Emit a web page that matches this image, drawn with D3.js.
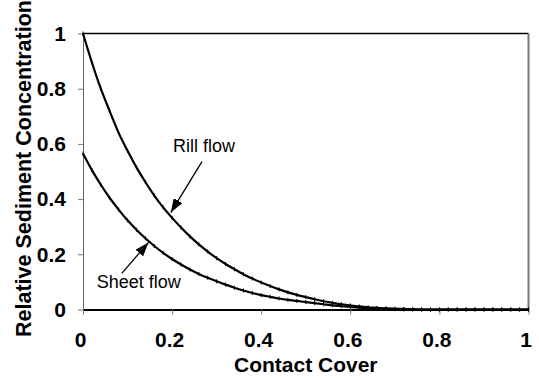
<!DOCTYPE html>
<html>
<head>
<meta charset="utf-8">
<script src="https://cdn.jsdelivr.net/npm/d3@7"></script>
<style>
  body { margin: 0; background: #fff; }
  svg { display: block; font-family: "Liberation Sans", Arial, sans-serif; }
</style>
</head>
<body>
<div id="wrapper"></div>
<script>
// data (x step 0.02)
const cover = d3.range(0, 51).map(i => +(i * 0.02).toFixed(2))
const rill = [1.000, 0.895, 0.800, 0.718, 0.640, 0.575, 0.515, 0.462, 0.413, 0.370,
  0.332, 0.297, 0.265, 0.236, 0.210, 0.186, 0.165, 0.146, 0.128, 0.112,
  0.098, 0.085, 0.073, 0.062, 0.053, 0.045, 0.037, 0.030, 0.024, 0.019,
  0.015, 0.011, 0.008, 0.006, 0.004, 0.003, 0.002, 0.001, 0, 0,
  0, 0, 0, 0, 0, 0, 0, 0, 0, 0, 0]
const sheet = [0.565, 0.505, 0.452, 0.404, 0.362, 0.323, 0.289, 0.258, 0.230, 0.205,
  0.183, 0.163, 0.145, 0.129, 0.115, 0.102, 0.090, 0.079, 0.069, 0.060,
  0.052, 0.046, 0.040, 0.035, 0.031, 0.027, 0.023, 0.019, 0.015, 0.012,
  0.009, 0.007, 0.005, 0.003, 0.002, 0.001, 0, 0, 0, 0,
  0, 0, 0, 0, 0, 0, 0, 0, 0, 0, 0]
const xTicks = [0, 0.2, 0.4, 0.6, 0.8, 1]
const yTicks = [0, 0.2, 0.4, 0.6, 0.8, 1]
const labels = [
  { text: "Rill flow", x: 0.202, y: 0.571, from: [0.267, 0.536], to: [0.197, 0.351] },
  { text: "Sheet flow", x: 0.031, y: 0.078, from: [0.087, 0.131], to: [0.147, 0.243] },
]

function drawChart() {
  const dimensions = {
    width: 539,
    height: 380,
    margin: { top: 33.5, right: 10.5, bottom: 70.5, left: 83 },
  }
  dimensions.boundedWidth = dimensions.width
    - dimensions.margin.left - dimensions.margin.right
  dimensions.boundedHeight = dimensions.height
    - dimensions.margin.top - dimensions.margin.bottom

  const wrapper = d3.select("#wrapper")
    .append("svg")
    .attr("width", dimensions.width)
    .attr("height", dimensions.height)

  wrapper.append("defs").append("marker")
    .attr("id", "head")
    .attr("viewBox", "0 0 14 10")
    .attr("refX", 14)
    .attr("refY", 5)
    .attr("markerWidth", 14)
    .attr("markerHeight", 10)
    .attr("markerUnits", "userSpaceOnUse")
    .attr("orient", "auto")
    .append("path")
    .attr("d", "M0,0 L14,5 L0,10 Z")
    .attr("fill", "#000")

  const bounds = wrapper.append("g")
    .attr("transform", `translate(${dimensions.margin.left},${dimensions.margin.top})`)

  const xScale = d3.scaleLinear()
    .domain([0, 1])
    .range([0, dimensions.boundedWidth])
  const yScale = d3.scaleLinear()
    .domain([0, 1])
    .range([dimensions.boundedHeight, 0])

  // frame: top and right sides
  bounds.append("line")
    .attr("x1", 0).attr("x2", dimensions.boundedWidth)
    .attr("y1", 0).attr("y2", 0)
    .attr("stroke", "#000").attr("stroke-width", 1.5)
  bounds.append("line")
    .attr("x1", dimensions.boundedWidth).attr("x2", dimensions.boundedWidth)
    .attr("y1", 0).attr("y2", dimensions.boundedHeight)
    .attr("stroke", "#777").attr("stroke-width", 2)

  // axes
  const fmt = d3.format("~g")
  const yAxis = bounds.append("g")
    .call(d3.axisLeft(yScale).tickValues(yTicks).tickFormat(fmt)
      .tickSize(5).tickSizeOuter(0).tickPadding(12))
  yAxis.select(".domain").attr("stroke", "#666")
  yAxis.selectAll(".tick line").attr("stroke", "#777")
  yAxis.selectAll("text")
    .attr("fill", "#000")
    .style("font-size", "21px")
    .style("font-weight", "bold")

  const xAxis = bounds.append("g")
    .attr("transform", `translate(0,${dimensions.boundedHeight})`)
    .call(d3.axisBottom(xScale).tickValues(xTicks).tickFormat(fmt)
      .tickSize(5).tickSizeOuter(0).tickPadding(17.5))
  xAxis.select(".domain").attr("stroke", "#000").attr("stroke-width", 1.8)
  xAxis.selectAll(".tick line").attr("stroke", "#777")
  xAxis.selectAll("text")
    .attr("fill", "#000")
    .attr("dx", -3)
    .style("font-size", "21px")
    .style("font-weight", "bold")

  // curves
  const series = [rill, sheet]
  const lineGenerator = d3.line()
    .x((d, i) => xScale(cover[i]))
    .y(d => yScale(d))
    .curve(d3.curveMonotoneX)

  series.forEach(values => {
    bounds.append("path")
      .datum(values)
      .attr("d", lineGenerator)
      .attr("fill", "none")
      .attr("stroke", "#000")
      .attr("stroke-width", 2.2)

    bounds.append("g")
      .selectAll("line")
      .data(values)
      .join("line")
      .attr("x1", (d, i) => xScale(cover[i]))
      .attr("x2", (d, i) => xScale(cover[i]))
      .attr("y1", d => yScale(d) - 2)
      .attr("y2", d => yScale(d) + 2)
      .attr("stroke", "#000")
      .attr("stroke-width", 1)
  })

  // annotations
  labels.forEach(l => {
    bounds.append("text")
      .attr("x", xScale(l.x))
      .attr("y", yScale(l.y))
      .style("font-size", "18px")
      .attr("fill", "#000")
      .text(l.text)
    bounds.append("line")
      .attr("x1", xScale(l.from[0])).attr("y1", yScale(l.from[1]))
      .attr("x2", xScale(l.to[0])).attr("y2", yScale(l.to[1]))
      .attr("stroke", "#000")
      .attr("stroke-width", 1.3)
      .attr("marker-end", "url(#head)")
  })

  // axis titles
  wrapper.append("text")
    .attr("x", dimensions.margin.left + dimensions.boundedWidth / 2)
    .attr("y", 372)
    .attr("text-anchor", "middle")
    .style("font-size", "21px")
    .style("font-weight", "bold")
    .text("Contact Cover")

  wrapper.append("text")
    .attr("transform", `translate(31,${dimensions.margin.top + dimensions.boundedHeight / 2 - 3}) rotate(-90)`)
    .attr("text-anchor", "middle")
    .style("font-size", "21.5px")
    .style("font-weight", "bold")
    .text("Relative Sediment Concentration")
}
drawChart()
</script>
</body>
</html>
